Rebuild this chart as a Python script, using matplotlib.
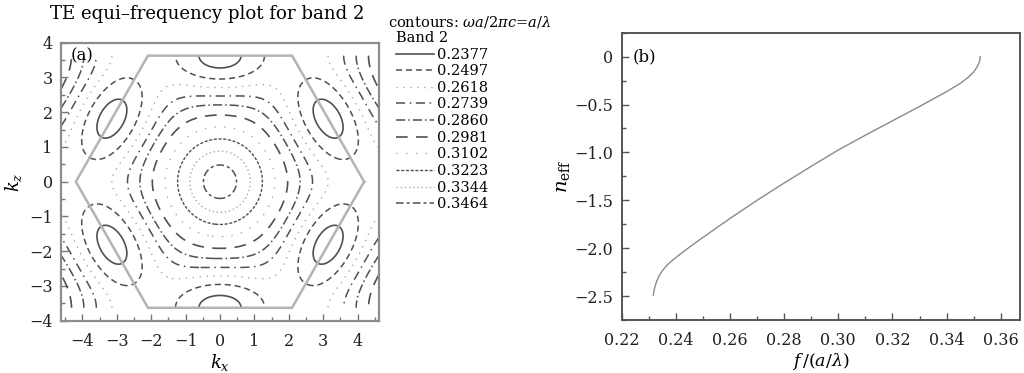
import numpy as np
import matplotlib
matplotlib.use("Agg")
import matplotlib.pyplot as plt
from matplotlib.lines import Line2D
from matplotlib.ticker import MultipleLocator, FormatStrFormatter, FuncFormatter

plt.rcParams['font.family'] = ['DejaVu Serif']
plt.rcParams['mathtext.fontset'] = 'dejavuserif'

# ---------------- data ----------------
# contour levels (band 2, omega a / 2 pi c)
levels = [0.2377, 0.2497, 0.2618, 0.2739, 0.2860, 0.2981, 0.3102, 0.3223, 0.3344, 0.3464]
level_labels = ["0.2377", "0.2497", "0.2618", "0.2739", "0.2860",
                "0.2981", "0.3102", "0.3223", "0.3344", "0.3464"]
# contour crossings: along Gamma-M (k_z axis) and Gamma-K (k_x axis)
gm_k = [0.48, 0.91, 1.23, 1.54, 1.86, 2.16, 2.43, 2.79, 3.05, 3.37]   # levels high -> low
gk_k = [0.51, 0.93, 1.30, 1.57, 2.00, 2.32, 2.71, 3.19]               # levels high -> low
# crossings along the zone edge, measured from M towards K
mk_d = [0.81, 1.50]
mk_levels = [0.2377, 0.2497]
f_gamma, f_M, f_K = 0.3524, 0.232, 0.256

# panel (b): effective index vs normalized frequency
f_norm = [0.2317, 0.2319, 0.2323, 0.2330, 0.2340, 0.2353, 0.2370, 0.2390, 0.2415, 0.2450,
          0.2500, 0.2600, 0.2700, 0.2800, 0.2900, 0.3000, 0.3100, 0.3200, 0.3300, 0.3400,
          0.3450, 0.3480, 0.3500, 0.3512, 0.3519, 0.3523, 0.3524]
n_eff = [-2.490, -2.450, -2.400, -2.340, -2.280, -2.225, -2.170, -2.120, -2.065, -1.990,
         -1.888, -1.690, -1.500, -1.320, -1.145, -0.975, -0.820, -0.670, -0.520, -0.365,
         -0.280, -0.215, -0.160, -0.110, -0.070, -0.030, 0.0]

# ---------------- band-surface fit from read crossings ----------------
s3 = np.sqrt(3)
shells = [
    [(1, 0), (0.5, s3 / 2), (-0.5, s3 / 2)],
    [(0, s3), (1.5, s3 / 2), (-1.5, s3 / 2)],
    [(2, 0), (1, s3), (-1, s3)],
    [(2.5, s3 / 2), (2, s3), (0.5, 1.5 * s3), (-0.5, 1.5 * s3), (-2, s3), (-2.5, s3 / 2)],
    [(3, 0), (1.5, 1.5 * s3), (-1.5, 1.5 * s3)],
]

def basis(kx, ky):
    kx = np.asarray(kx, float)
    ky = np.asarray(ky, float)
    cols = [np.ones_like(kx)]
    for sh in shells:
        cols.append(sum(np.cos(kx * rx + ky * ry) for rx, ry in sh))
    return np.stack(cols, axis=-1)

kM = 2 * np.pi / s3
kK = 4 * np.pi / 3
desc = levels[::-1]
pts_x = [0.0] * len(gm_k) + list(gk_k) + list(mk_d) + [0.0, 0.0, kK]
pts_y = list(gm_k) + [0.0] * len(gk_k) + [kM] * len(mk_d) + [0.0, kM, 0.0]
vals = list(desc[:len(gm_k)]) + list(desc[:len(gk_k)]) + list(mk_levels) + [f_gamma, f_M, f_K]
wts = np.ones(len(vals))
wts[-3:] = 3.0
Amat = basis(pts_x, pts_y)
coef, *_ = np.linalg.lstsq(Amat * wts[:, None], np.array(vals) * wts, rcond=None)

# computed k-grid spans |kz| <= kM (top/bottom edges of the zone)
kx = np.linspace(-4.62, 4.62, 500)
kz = np.linspace(-kM, kM, 420)
KX, KZ = np.meshgrid(kx, kz)
F = basis(KX, KZ) @ coef

# ---------------- styles ----------------
dark = '#505050'
light = '#a8a8a8'
styles = [
    ('solid', dark, 1.2),
    ((0, (4, 2.5)), dark, 1.1),
    ((0, (1, 4)), light, 1.0),
    ((0, (6, 3, 1, 3)), dark, 1.1),
    ((0, (6, 2, 1, 2)), dark, 1.1),
    ((0, (7, 5)), dark, 1.2),
    ((0, (1, 6)), light, 1.0),
    ((0, (2.2, 1.2)), dark, 1.0),
    ((0, (1, 2)), light, 1.0),
    ((0, (5, 2, 2, 2)), dark, 1.1),
]

fig = plt.figure(figsize=(10.24, 3.73), dpi=100)

# ---------------- panel (a) ----------------
axa = fig.add_axes([0.0596, 0.1402, 0.3105, 0.7453])
axa.contour(KX, KZ, F, levels=levels,
            colors=[s[1] for s in styles],
            linestyles=[s[0] for s in styles],
            linewidths=[s[2] for s in styles])
# Brillouin zone hexagon
ang = np.deg2rad(np.arange(0, 361, 60))
axa.plot(kK * np.cos(ang), kK * np.sin(ang), color='#b4b4b4', lw=1.8)
axa.set_xlim(-4.62, 4.62)
axa.set_ylim(-4.0, 4.0)
axa.xaxis.set_major_locator(MultipleLocator(1))
axa.yaxis.set_major_locator(MultipleLocator(1))
axa.xaxis.set_minor_locator(MultipleLocator(0.5))
axa.yaxis.set_minor_locator(MultipleLocator(0.5))
axa.tick_params(which='both', direction='in', top=False, right=False,
                labelsize=11.5, colors='#777777', labelcolor='#222222')
axa.tick_params(which='major', length=5, width=1)
axa.tick_params(which='minor', length=3, width=1)
axa.tick_params(axis='x', which='major', pad=9)
axa.tick_params(axis='y', which='major', pad=6)
for sp in axa.spines.values():
    sp.set_color('#8c8c8c')
    sp.set_linewidth(1.6)
axa.set_xlabel('$k_x$', fontsize=13, labelpad=1)
axa.set_ylabel('$k_z$', fontsize=13, labelpad=4)
axa.text(0.03, 0.985, '(a)', transform=axa.transAxes, ha='left', va='top', fontsize=12)

fig.text(207 / 1024, 1 - 14 / 373, 'TE equi\u2013frequency plot for band 2',
         ha='center', va='center', fontsize=13.1)
fig.text(388 / 1024, 1 - 22 / 373, r'contours: $\omega a/2\pi c$=$a/\lambda$',
         ha='left', va='center', fontsize=10.5)

handles = [Line2D([], [], linestyle=s[0], color=s[1], lw=s[2]) for s in styles]
leg = fig.legend(handles, level_labels, title='Band 2', loc='upper left',
                 bbox_to_anchor=(396 / 1024, 1 - 31 / 373), frameon=False,
                 fontsize=10.5, title_fontsize=10.5, handlelength=2.6,
                 handletextpad=0.2, labelspacing=0.18, borderaxespad=0, borderpad=0)
leg._legend_box.align = 'left'

# ---------------- panel (b) ----------------
axb = fig.add_axes([0.6071, 0.1421, 0.389, 0.7702])
axb.plot(f_norm, n_eff, color='#8a8a8a', lw=1.0)
axb.set_xlim(0.22, 0.3671)
axb.set_ylim(-2.75, 0.25)
axb.xaxis.set_major_locator(MultipleLocator(0.02))
axb.xaxis.set_minor_locator(MultipleLocator(0.01))
axb.yaxis.set_major_locator(MultipleLocator(0.5))
axb.yaxis.set_minor_locator(MultipleLocator(0.25))
axb.xaxis.set_major_formatter(FormatStrFormatter('%.2f'))
axb.yaxis.set_major_formatter(FuncFormatter(
    lambda v, p: '0' if abs(v) < 1e-9 else ('%.1f' % v).replace('-', '\u2212')))
axb.tick_params(which='both', direction='in', top=False, right=False,
                labelsize=11.5, colors='#555555', labelcolor='#222222')
axb.tick_params(which='major', length=5, width=1)
axb.tick_params(which='minor', length=3, width=1)
axb.tick_params(axis='x', which='major', pad=9)
axb.tick_params(axis='y', which='major', pad=6)
for sp in axb.spines.values():
    sp.set_color('#555555')
    sp.set_linewidth(1.4)
axb.set_xlabel(r'$f\,/(a/\lambda)$', fontsize=12.5, labelpad=1)
axb.set_ylabel(r'$n_{\mathrm{eff}}$', fontsize=14, labelpad=2)
axb.text(0.028, 0.915, '(b)', transform=axb.transAxes, ha='left', va='center', fontsize=12)

fig.savefig('out.png', dpi=100)
